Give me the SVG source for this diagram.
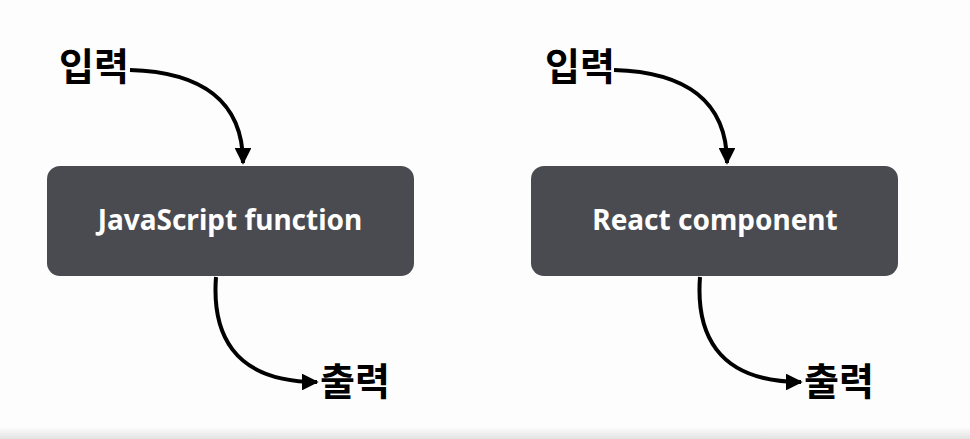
<svg xmlns="http://www.w3.org/2000/svg" width="970" height="439" viewBox="0 0 970 439">
<defs>
<linearGradient id="bot" x1="0" y1="0" x2="0" y2="1">
<stop offset="0" stop-color="#fdfdfd"/>
<stop offset="1" stop-color="#e2e2e2"/>
</linearGradient>
<marker id="ah" viewBox="0 0 10 10" refX="9" refY="5" markerWidth="4.2" markerHeight="4.2" orient="auto" markerUnits="strokeWidth">
<path d="M0,0 L10,5 L0,10 z" fill="#000"/>
</marker>
<style>
.box{fill:#4a4b50;}
.bt{fill:#fff;font-family:"Noto Sans","Noto Sans CJK KR",sans-serif;font-weight:bold;font-size:28px;text-anchor:middle;}
.lb{fill:#000;font-family:"Noto Sans CJK KR","Noto Sans",sans-serif;font-weight:bold;font-size:38px;}
.cn{fill:none;stroke:#000;stroke-width:4;marker-end:url(#ah);}
</style>
</defs>
<rect width="970" height="439" fill="#fdfdfd"/>
<rect y="427" width="970" height="12" fill="url(#bot)"/>
<g id="node-js">
<rect class="box" x="47" y="166" width="367" height="110" rx="13"/>
<text class="bt" x="230" y="230">JavaScript function</text>
</g>
<g id="node-react">
<rect class="box" x="531" y="166" width="367" height="110" rx="13"/>
<text class="bt" x="715" y="230">React component</text>
</g>
<g id="label-in-1"><text class="lb" x="59" y="80">입력</text></g>
<g id="label-out-1"><text class="lb" x="320" y="395">출력</text></g>
<g id="label-in-2"><text class="lb" x="545" y="80">입력</text></g>
<g id="label-out-2"><text class="lb" x="804" y="395">출력</text></g>
<g id="connectors">
<path class="cn" d="M130,70 C200,72 243,100 243,163"/>
<path class="cn" d="M216,277 C212,330 230,382 317,382"/>
<path class="cn" d="M614,70 C684,72 727,100 727,163"/>
<path class="cn" d="M700,277 C696,330 714,382 801,382"/>
</g>
</svg>
